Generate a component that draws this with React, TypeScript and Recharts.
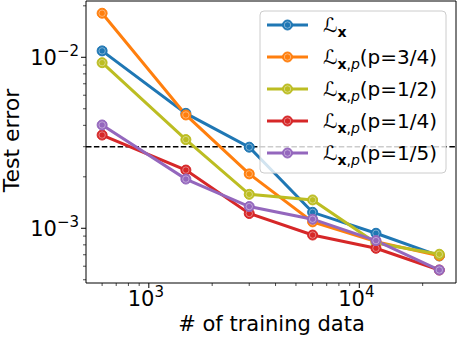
import { LineChart, Line, XAxis, YAxis, ReferenceLine } from 'recharts';

// training set sizes and test errors
const trainSizes = [600, 1500, 3000, 6000, 12000, 24000];
const lossX = [0.0109, 0.0047, 0.00298, 0.00124, 0.000935, 0.000689];
const lossP34 = [0.0181, 0.0046, 0.00208, 0.00109, 0.000835, 0.00069];
const lossP12 = [0.0093, 0.0033, 0.00158, 0.001465, 0.00082, 0.000705];
const lossP14 = [0.00351, 0.00219, 0.00122, 0.000913, 0.000764, 0.00057];
const lossP15 = [0.00402, 0.00194, 0.00134, 0.00113, 0.000847, 0.00057];
const threshold = 0.003;

const xTicks = [600, 700, 800, 900, 1000, 2000, 3000, 4000, 5000, 6000, 7000, 8000, 9000, 10000, 20000];
const yTicks = [0.0005, 0.0006, 0.0007, 0.0008, 0.0009, 0.001, 0.002, 0.003, 0.004, 0.005, 0.006, 0.007, 0.008, 0.009, 0.01, 0.02];

const X_DOMAIN = [503, 28800];
const Y_DOMAIN = [0.0004786, 0.02134];

const series = [
  { key: 'lx', values: lossX, color: '#1f77b4', p: null },
  { key: 'p34', values: lossP34, color: '#ff7f0e', p: '3/4' },
  { key: 'p12', values: lossP12, color: '#bcbd22', p: '1/2' },
  { key: 'p14', values: lossP14, color: '#d62728', p: '1/4' },
  { key: 'p15', values: lossP15, color: '#9467bd', p: '1/5' },
];

const chartData = trainSizes.map((n, i) => {
  const row: any = { n };
  series.forEach((s) => (row[s.key] = s.values[i]));
  return row;
});

const FONT = 'DejaVu Sans';

const isMajor = (v: number) => {
  const e = Math.log10(v);
  return Math.abs(e - Math.round(e)) < 1e-9;
};

const XTick = ({ x, y, payload }: any) => {
  const major = isMajor(payload.value);
  return (
    <g>
      <line x1={x} x2={x} y1={y} y2={y + (major ? 5 : 3)} stroke="#000" strokeWidth={major ? 1 : 0.7} />
      {major && (
        <text x={x - 3} y={y + 22.5} textAnchor="middle" fontSize={21} fill="#000" fontFamily={FONT}>
          10<tspan dy={-8.5} fontSize={15}>{Math.round(Math.log10(payload.value))}</tspan>
        </text>
      )}
    </g>
  );
};

const YTick = ({ x, y, payload }: any) => {
  const major = isMajor(payload.value);
  return (
    <g>
      <line x1={x - (major ? 5 : 3)} x2={x} y1={y} y2={y} stroke="#000" strokeWidth={major ? 1 : 0.7} />
      {major && (
        <text x={x - 7} y={y + 7.5} textAnchor="end" fontSize={21} fill="#000" fontFamily={FONT}>
          10<tspan dy={-8.5} fontSize={15}>{'\u2212' + Math.abs(Math.round(Math.log10(payload.value)))}</tspan>
        </text>
      )}
    </g>
  );
};

const Marker = ({ cx, cy, stroke }: any) => {
  if (cx == null || cy == null) return null;
  return (
    <g>
      <circle cx={cx} cy={cy} r={5} fill={stroke} stroke={stroke} strokeWidth={1} />
      <circle cx={cx} cy={cy} r={3.2} fill="none" stroke="#fff" strokeOpacity={0.5} strokeWidth={0.8} />
    </g>
  );
};

const LegendLabel = ({ x, y, p }: { x: number; y: number; p: string | null }) => (
  <text x={x} y={y} fontSize={20} fontFamily={FONT} fill="#000">
    {'\u2112'}
    <tspan dy={5} fontSize={14} fontWeight="bold">x</tspan>
    {p && <tspan fontSize={14}>,</tspan>}
    {p && <tspan fontSize={14} fontStyle="italic">p</tspan>}
    {p && <tspan dy={-5}>{`(p=${p})`}</tspan>}
  </text>
);

export default function App() {
  return (
    <div style={{ position: 'absolute', left: 0, top: 0, width: 458, height: 338, background: '#fff' }}>
      <LineChart width={458} height={338} data={chartData} margin={{ top: 1, right: 2, left: 0, bottom: 0 }}>
        <XAxis
          dataKey="n"
          type="number"
          scale="log"
          domain={X_DOMAIN}
          allowDataOverflow
          ticks={xTicks}
          interval={0}
          tick={<XTick />}
          tickLine={false}
          tickSize={0}
          tickMargin={0}
          height={55}
          stroke="#000"
        />
        <YAxis
          type="number"
          scale="log"
          domain={Y_DOMAIN}
          allowDataOverflow
          ticks={yTicks}
          interval={0}
          tick={<YTick />}
          tickLine={false}
          tickSize={0}
          tickMargin={0}
          width={86}
          stroke="#000"
        />
        <ReferenceLine x={X_DOMAIN[1]} stroke="#000" strokeWidth={1} />
        <ReferenceLine y={Y_DOMAIN[1]} stroke="#000" strokeWidth={1} />
        <ReferenceLine y={threshold} stroke="#000" strokeWidth={1.5} strokeDasharray="5.5 2.4" />
        {series.map((s) => (
          <Line
            key={s.key}
            dataKey={s.key}
            stroke={s.color}
            strokeWidth={3}
            dot={<Marker />}
            isAnimationActive={false}
          />
        ))}
      </LineChart>
      <svg width={458} height={338} style={{ position: 'absolute', left: 0, top: 0, pointerEvents: 'none' }}>
        <text x={19} y={140.5} transform="rotate(-90 19 140.5)" textAnchor="middle" fontSize={22} fontFamily={FONT} fill="#000">
          Test error
        </text>
        <text x={271.5} y={331} textAnchor="middle" fontSize={21} fontFamily={FONT} fill="#000">
          # of training data
        </text>
        <rect x={260} y={11} width={186} height={162} rx={4} fill="#fff" fillOpacity={0.8} stroke="#ccc" strokeWidth={1} />
        {series.map((s, i) => {
          const cy = 25 + i * 32;
          return (
            <g key={s.key}>
              <line x1={267} x2={308} y1={cy} y2={cy} stroke={s.color} strokeWidth={3} />
              <Marker cx={287.5} cy={cy} stroke={s.color} />
              <LegendLabel x={323} y={cy + 7} p={s.p} />
            </g>
          );
        })}
      </svg>
    </div>
  );
}
